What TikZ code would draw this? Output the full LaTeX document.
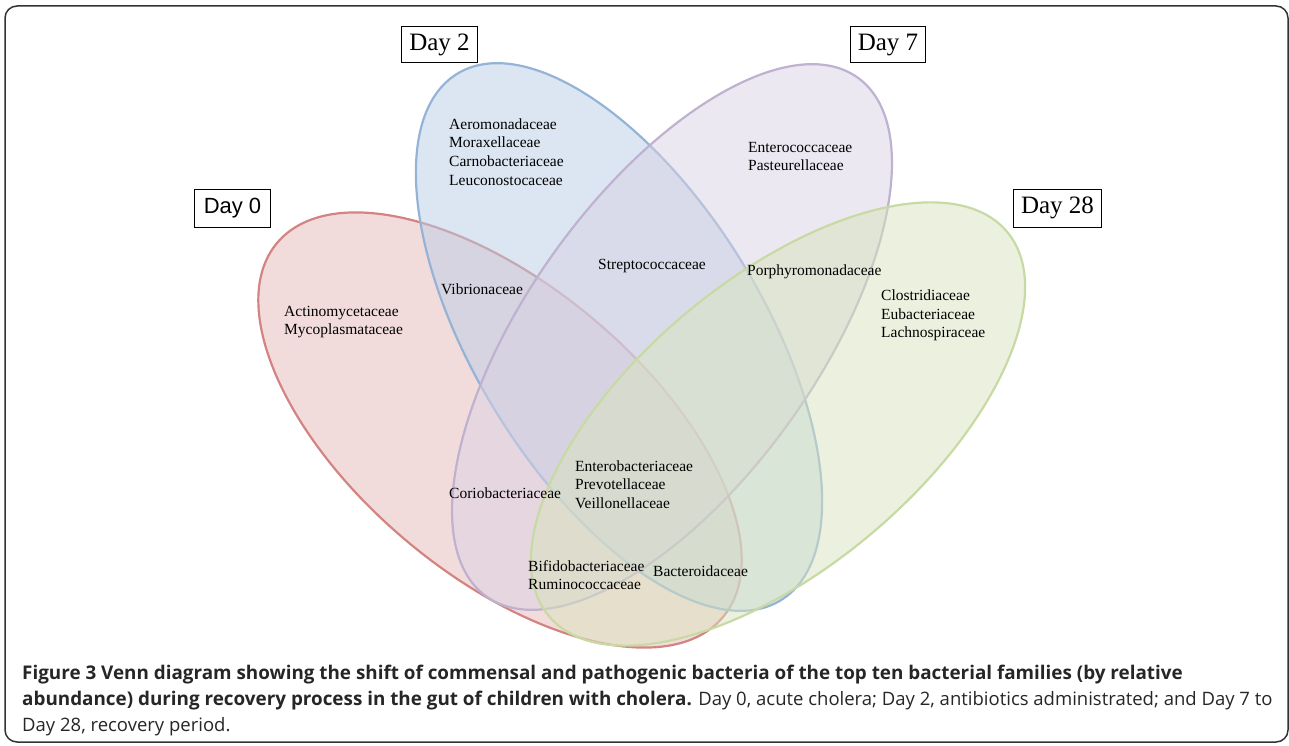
\documentclass[tikz,border=0pt]{standalone}
\usepackage{fontspec}
\setmainfont{Liberation Serif}
\newfontfamily\arialfont{Liberation Sans}
\newfontfamily\capfont{Open Sans}
\definecolor{dayzero}{HTML}{C0504D}
\definecolor{daytwo}{HTML}{4F81BD}
\definecolor{dayseven}{HTML}{8064A2}
\definecolor{daytwentyeight}{HTML}{9BBB59}
\begin{document}
\begin{tikzpicture}[x=1pt,y=-1pt,
  venn/.style={line width=2.2pt, fill opacity=0.5},
  daybox/.style={draw=black, line width=1pt, inner xsep=7.5pt, minimum height=36pt,
    font=\fontsize{25}{25}\selectfont},
  family/.style={anchor=west, inner sep=0pt, align=left,
    font=\fontsize{15.5}{18.7}\selectfont},
  capline/.style={anchor=base west, inner sep=0pt, text=black!85,
    font=\capfont\fontsize{18.5}{18.5}\selectfont}]
\useasboundingbox (0,0) rectangle (1289,746);
\draw [line width=1.5pt, color=black!80, rounded corners=12pt] (5,6) rectangle (1288,742);

% the four sets
\draw [venn, draw=dayzero!70, fill=dayzero!40, rotate around={-40:(500,430)}]
  (500,430) ellipse (291pt and 145pt);
\draw [venn, draw=daytwo!60, fill=daytwo!40, rotate around={-58.4:(619,337)}]
  (619,337) ellipse (309pt and 144pt);
\draw [venn, draw=dayseven!50, fill=dayseven!30, rotate around={54.4:(672,337)}]
  (672,337) ellipse (319pt and 145pt);
\draw [venn, draw=daytwentyeight!55, fill=daytwentyeight!40, rotate around={40:(778,424)}]
  (778,424) ellipse (299pt and 144pt);

% day labels
\node [daybox, inner xsep=9.5pt, minimum height=38pt, font=\arialfont\fontsize{22}{22}\selectfont]
  (day0) at (232.5,208) {Day 0};
\node [daybox] (day2) at (439.5,45) {Day 2};
\node [daybox] (day7) at (888,45) {Day 7};
\node [daybox, inner xsep=8pt, minimum height=38pt] (day28) at (1057.5,208) {Day 28};

% families
\node [family] (only2) at (449,152) {Aeromonadaceae\\Moraxellaceae\\Carnobacteriaceae\\Leuconostocaceae};
\node [family] (only7) at (748,156.5) {Enterococcaceae\\Pasteurellaceae};
\node [family] (strep) at (598,266) {Streptococcaceae};
\node [family] (vibrio) at (441,289) {Vibrionaceae};
\node [family] (porphyro) at (747,272) {Porphyromonadaceae};
\node [family] (only0) at (284,322) {Actinomycetaceae\\Mycoplasmataceae};
\node [family] (only28) at (881,315.5) {Clostridiaceae\\Eubacteriaceae\\Lachnospiraceae};
\node [family] (core) at (575,484.5) {Enterobacteriaceae\\Prevotellaceae\\Veillonellaceae};
\node [family] (corio) at (449,493) {Coriobacteriaceae};
\node [family] (bifido) at (528,575) {Bifidobacteriaceae\\Ruminococcaceae};
\node [family] (bactero) at (653,571) {Bacteroidaceae};

% caption
\node [capline] (cap1) at (22,679) {\fontsize{18.85}{18.85}\selectfont\bfseries Figure 3 Venn diagram showing the shift of commensal and pathogenic bacteria of the top ten bacterial families (by relative};
\node [capline] (cap2) at (22,705) {{\fontsize{18.85}{18.85}\selectfont\bfseries abundance) during recovery process in the gut of children with cholera.} Day 0, acute cholera; Day 2, antibiotics administrated; and Day 7 to};
\node [capline] (cap3) at (22,731) {Day 28, recovery period.};
\end{tikzpicture}
\end{document}
